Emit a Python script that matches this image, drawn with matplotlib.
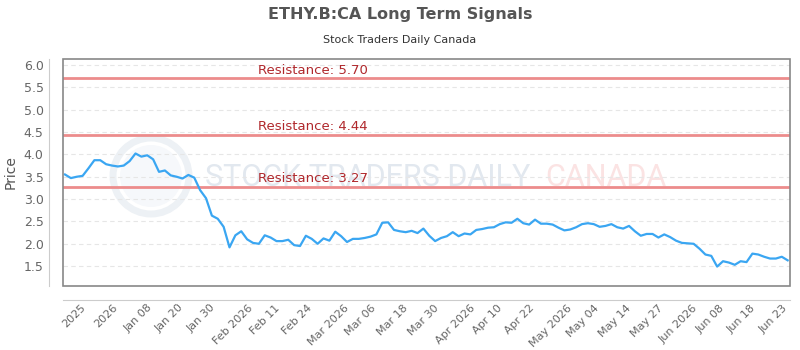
import matplotlib.pyplot as plt
from matplotlib.patches import Rectangle, Ellipse

# --- Data ---
prices = [
    3.55, 3.47, 3.50, 3.52, 3.69, 3.87, 3.87, 3.78, 3.75, 3.73,
    3.75, 3.85, 4.02, 3.95, 3.98, 3.89, 3.61, 3.64, 3.53, 3.50,
    3.46, 3.54, 3.48, 3.20, 3.02, 2.63, 2.56, 2.38, 1.92, 2.19,
    2.28, 2.10, 2.02, 2.00, 2.19, 2.14, 2.06, 2.06, 2.09, 1.97,
    1.95, 2.18, 2.11, 2.00, 2.12, 2.07, 2.27, 2.17, 2.04, 2.11,
    2.11, 2.13, 2.16, 2.21, 2.47, 2.48, 2.31, 2.28, 2.26, 2.29,
    2.24, 2.34, 2.18, 2.06, 2.13, 2.17, 2.26, 2.17, 2.23, 2.21,
    2.31, 2.33, 2.36, 2.37, 2.44, 2.48, 2.47, 2.56, 2.46, 2.43,
    2.54, 2.45, 2.45, 2.43, 2.36, 2.30, 2.32, 2.37, 2.44, 2.46,
    2.44, 2.38, 2.40, 2.44, 2.37, 2.34, 2.40, 2.28, 2.18, 2.22,
    2.22, 2.14, 2.21, 2.15, 2.07, 2.02, 2.01, 2.00, 1.89, 1.76,
    1.73, 1.49, 1.61, 1.58, 1.53, 1.61, 1.59, 1.78, 1.76, 1.71,
    1.67, 1.67, 1.71, 1.63,
]
resistance = [5.70, 4.44, 3.27]
tick_labels = ['2025', '2026', 'Jan 08', 'Jan 20', 'Jan 30', 'Feb 2026', 'Feb 11',
               'Feb 24', 'Mar 2026', 'Mar 06', 'Mar 18', 'Mar 30', 'Apr 2026',
               'Apr 10', 'Apr 22', 'May 2026', 'May 04', 'May 14', 'May 27',
               'Jun 2026', 'Jun 08', 'Jun 18', 'Jun 23']
y_ticks = [1.5, 2.0, 2.5, 3.0, 3.5, 4.0, 4.5, 5.0, 5.5, 6.0]

fig = plt.figure(figsize=(8, 3.5), dpi=100)
ax = fig.add_axes([0.07875, 0.1829, 0.90875, 0.6485])

# --- watermark (behind everything in the axes) ---
ax.text(205 / 800, 1 - 178 / 350, 'STOCK TRADERS DAILY', transform=fig.transFigure,
        fontsize=22, color='#e2e8ef', family='Roboto',
        va='center', ha='left', zorder=0)
ax.text(545 / 800, 1 - 178 / 350, 'CANADA', transform=fig.transFigure,
        fontsize=22, color='#fbe3e3', family='Roboto',
        va='center', ha='left', zorder=0)
cx, cy = 151 / 800, 1 - 176 / 350
ax.add_patch(Ellipse((cx, cy), 76 / 800, 76 / 350, transform=fig.transFigure,
                     fill=False, edgecolor='#edf1f5', lw=5, zorder=0, clip_on=False))
ax.add_patch(Ellipse((cx, cy), 62 / 800, 62 / 350, transform=fig.transFigure,
                     facecolor='#f6f8fb', edgecolor='none', zorder=0, clip_on=False))

x = list(range(len(prices)))
ax.plot(x, prices, color='#3aa6f2', lw=1.6, zorder=3)

for r in resistance:
    ax.axhline(r, color='#ec8c8c', lw=2, zorder=2)
    ax.text(0.268, r + 0.04, f'Resistance: {r:.2f}', transform=ax.get_yaxis_transform(),
            color='#b0282c', fontsize=9.5, va='bottom', ha='left', zorder=4)

ax.set_xlim(-0.34, 123.4)
ax.set_ylim(1.056, 6.134)
ax.set_yticks(y_ticks)
ax.set_yticklabels([f'{v:.1f}' for v in y_ticks])
ax.grid(axis='y', color='#e6e6e6', lw=0.8, ls=(0, (4, 3)), zorder=1)

tick_pos = [1.6 + i * (120.6 - 1.6) / 22 for i in range(len(tick_labels))]
ax.set_xticks(tick_pos)
ax.set_xticklabels(tick_labels)

ax.tick_params(axis='both', length=0, labelsize=8, labelcolor='#666666')
ax.tick_params(axis='y', pad=4, labelsize=9)
ax.tick_params(axis='x', pad=2, labelrotation=45)
plt.setp(ax.get_xticklabels(), ha='right', va='center', rotation_mode='anchor')

for side in ['top', 'right']:
    ax.spines[side].set_visible(False)
for side in ['left', 'bottom']:
    ax.spines[side].set_position(('outward', 10))
    ax.spines[side].set_color('#cccccc')
ax.add_patch(Rectangle((0, 0), 1, 1, transform=ax.transAxes, fill=False,
                       edgecolor='#888888', lw=1.2, clip_on=False, zorder=5))

ax.set_ylabel('Price', fontsize=10, color='#555555', labelpad=4)

fig.text(0.5, 1 - 15 / 350, 'ETHY.B:CA Long Term Signals', ha='center', va='center',
         fontsize=11.5, fontweight='bold', color='#555555')
fig.text(0.5, 1 - 40 / 350, 'Stock Traders Daily Canada', ha='center', va='center',
         fontsize=8, color='#333333')

fig.savefig('out.png', dpi=100)
